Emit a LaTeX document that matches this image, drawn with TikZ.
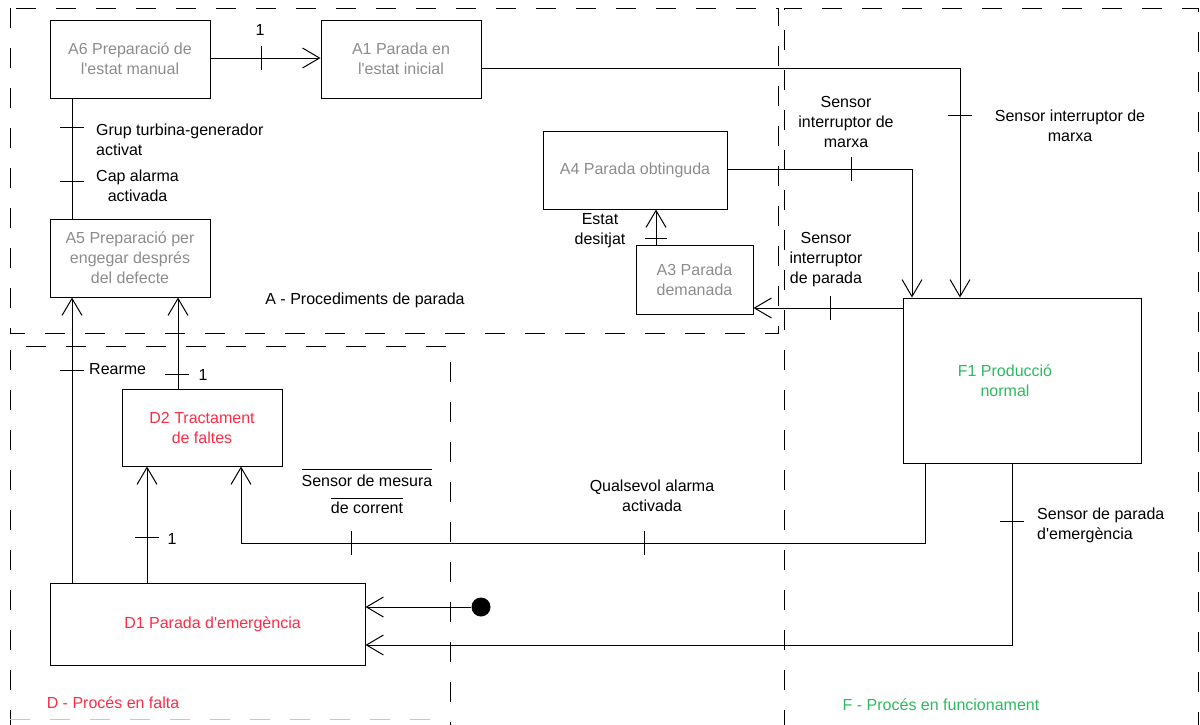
\documentclass[tikz,border=0pt]{standalone}
\usepackage{fontspec}
\setmainfont{Liberation Sans}
\usetikzlibrary{arrows.meta}

\definecolor{agray}{RGB}{140,140,140}
\definecolor{dred}{RGB}{250,45,70}
\definecolor{fgreen}{RGB}{45,185,95}

\begin{document}
\begin{tikzpicture}[x=1pt, y=-1pt,
  every node/.style={font=\fontsize{16}{20}\selectfont},
  box/.style={rectangle, draw, line width=1pt, align=center, inner sep=0pt},
  arrow/.style={-{Straight Barb[length=17pt, width=20pt]}, line width=1pt},
  conn/.style={line width=1pt},
  tickmark/.style={line width=1pt},
  region/.style={line width=1pt, dash pattern=on 20pt off 20pt},
  cond/.style={align=center, inner sep=0pt},
]
\useasboundingbox (0,0) rectangle (1200,724);

% === Regions ===
\draw[region] (10,8) rectangle (778,333);
\draw[region] (784,730) -- (784,8) -- (1198,8) -- (1198,730);
\draw[region] (10,730) -- (10,346) -- (450,346) -- (450,730);
\draw[region, gray!45] (10,719) -- (450,719);

\node[cond] (ra) at (365,300) {A - Procediments de parada};
\node[cond, text=dred] (rd) at (113,703) {D - Procés en falta};
\node[cond, text=fgreen] (rf) at (941,705) {F - Procés en funcionament};

% === Steps ===
\node[box, minimum width=160pt, minimum height=78pt, text=agray] (a6) at (130,59) {A6 Preparació de\\l\textquotesingle{}estat manual};
\node[box, minimum width=160pt, minimum height=78pt, text=agray] (a1) at (401,59) {A1 Parada en\\l\textquotesingle{}estat inicial};
\node[box, minimum width=184pt, minimum height=78pt, text=agray] (a4) at (635,170) {A4 Parada obtinguda};
\node[box, minimum width=117pt, minimum height=69pt, text=agray] (a3) at (694.5,279.5) {A3 Parada\\demanada};
\node[box, minimum width=160pt, minimum height=78pt, text=agray] (a5) at (130,258) {A5 Preparació per\\engegar després\\del defecte};
\node[box, minimum width=238pt, minimum height=165pt,
  label={[align=center, text=fgreen, xshift=-17pt]center:{F1 Producció\\normal}}] (f1) at (1022,380.5) {};
\node[box, minimum width=160pt, minimum height=77pt, text=dred] (d2) at (202,427.5) {D2 Tractament\\de faltes};
\node[box, minimum width=315pt, minimum height=82pt, text=dred] (d1) at (207.5,624) {\hspace*{10pt}D1 Parada d\textquotesingle{}emergència};
\node[circle, fill, minimum size=19pt, inner sep=0pt] (dot) at (481,607) {};

% === Connectors ===
\draw[arrow] (a6.east |- 0,58) -- (a1.west |- 0,58);
\draw[arrow] (a1.east |- 0,68) -| (f1.north -| 960,0);
\draw[arrow] (a4.east |- 0,169) -| (f1.north -| 912,0);
\draw[arrow] (f1.west |- 0,308) -- (a3.east |- 0,308);
\draw[arrow] (a3.north -| 656,0) -- (a4.south -| 656,0);
\draw[conn] (a6.south -| 72,0) -- (a5.north -| 72,0);
\draw[arrow] (d1.north -| 72,0) -- (a5.south -| 72,0);
\draw[arrow] (d2.north -| 178,0) -- (a5.south -| 178,0);
\draw[arrow] (d1.north -| 147,0) -- (d2.south -| 147,0);
\draw[arrow] (f1.south -| 925,0) -- (925,543) -| (d2.south -| 241,0);
\draw[arrow] (f1.south -| 1012,0) |- (d1.east |- 0,645);
\draw[arrow] (dot) -- (d1.east |- dot);

% === Receptivities ===
\draw[tickmark] (261,46) -- (261,70);
\node[cond] (c1) at (260,30) {1};
\draw[tickmark] (948,115) -- (972,115);
\node[cond] (c2) at (1070,126) {Sensor interruptor de\\marxa};
\draw[tickmark] (851,157) -- (851,181);
\node[cond] (c3) at (846,122) {Sensor\\interruptor de\\marxa};
\draw[tickmark] (830,296) -- (830,320);
\node[cond] (c4) at (826,260) {Sensor\\interruptor\\de parada};
\draw[tickmark] (645,238) -- (667,238);
\node[cond] (c5) at (600,231) {Estat\\desitjat};
\draw[tickmark] (60,127) -- (84,127);
\node[cond, anchor=west, align=left] (c6) at (96,140) {Grup turbina-generador\\activat};
\draw[tickmark] (60,181) -- (84,181);
\node[cond, anchor=west] (c7) at (96,186) {Cap alarma\\activada};
\draw[tickmark] (60,370) -- (84,370);
\node[cond, anchor=west] (c8) at (89,369) {Rearme};
\draw[tickmark] (165,374) -- (189,374);
\node[cond] (c9) at (203,375) {1};
\draw[tickmark] (135,537) -- (159,537);
\node[cond] (c10) at (172,539) {1};
\draw[tickmark] (351,531) -- (351,555);
\node[cond] (c11) at (367,491) {$\overline{\mbox{\rule{0pt}{16pt}Sensor de mesura}}$\\[7pt]$\overline{\mbox{\rule{0pt}{14pt}de corrent}}$};
\draw[tickmark] (644,531) -- (644,555);
\node[cond] (c12) at (652,496) {Qualsevol alarma\\activada};
\draw[tickmark] (1000,521) -- (1024,521);
\node[cond, anchor=west, align=left] (c13) at (1037,525) {Sensor de parada\\d\textquotesingle{}emergència};

\end{tikzpicture}
\end{document}
